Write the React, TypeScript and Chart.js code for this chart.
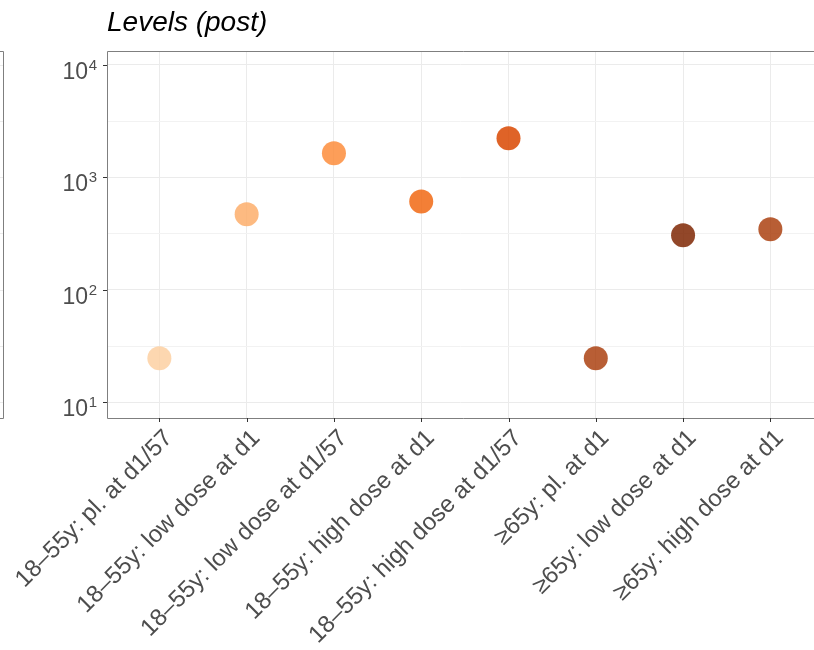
import React, { useEffect, useRef } from "react";
import { Chart, registerables } from "chart.js";

Chart.register(...registerables);

const categories = [
  "18–55y: pl. at d1/57",
  "18–55y: low dose at d1",
  "18–55y: low dose at d1/57",
  "18–55y: high dose at d1",
  "18–55y: high dose at d1/57",
  "≥65y: pl. at d1",
  "≥65y: low dose at d1",
  "≥65y: high dose at d1",
];
const values = [24.5, 470, 1640, 610, 2230, 24.5, 305, 345];
const pointColors = [
  "rgba(253,208,162,0.85)",
  "rgba(253,174,107,0.85)",
  "rgba(253,141,60,0.85)",
  "rgba(241,105,19,0.85)",
  "rgba(217,72,1,0.85)",
  "rgba(166,54,3,0.8)",
  "rgba(127,39,4,0.85)",
  "rgba(166,54,3,0.8)",
];
const yTickExponents = [1, 2, 3, 4];
const titleText = "Levels (post)";

const FONT = "'Liberation Sans', Arial, Helvetica, sans-serif";

export default function App() {
  const ref = useRef<HTMLCanvasElement | null>(null);

  useEffect(() => {
    if (!ref.current) return;
    const decorations = {
      id: "decorations",
      beforeDraw(chart: any) {
        const ctx = chart.ctx;
        const { top, bottom } = chart.chartArea;
        const y = chart.scales.y;
        ctx.save();
        ctx.fillStyle = "#ffffff";
        ctx.fillRect(0, 0, chart.width, chart.height);
        ctx.strokeStyle = "#ebebeb";
        ctx.lineWidth = 1;
        for (const e of [1, 1.5, 2, 2.5, 3, 3.5, 4]) {
          const py = Math.round(y.getPixelForValue(Math.pow(10, e))) + 0.5;
          ctx.beginPath();
          ctx.moveTo(0, py);
          ctx.lineTo(3, py);
          ctx.stroke();
        }
        ctx.strokeStyle = "#7f7f7f";
        ctx.beginPath();
        ctx.moveTo(0, Math.round(top) + 0.5);
        ctx.lineTo(3.5, Math.round(top) + 0.5);
        ctx.lineTo(3.5, Math.round(bottom) + 0.5);
        ctx.lineTo(0, Math.round(bottom) + 0.5);
        ctx.stroke();
        ctx.restore();
      },
      beforeDatasetsDraw(chart: any) {
        const ctx = chart.ctx;
        const { left, right } = chart.chartArea;
        const y = chart.scales.y;
        ctx.save();
        ctx.strokeStyle = "#f2f2f2";
        ctx.lineWidth = 1;
        for (const e of [1.5, 2.5, 3.5]) {
          const py = Math.round(y.getPixelForValue(Math.pow(10, e))) + 0.5;
          ctx.beginPath();
          ctx.moveTo(left, py);
          ctx.lineTo(right, py);
          ctx.stroke();
        }
        ctx.restore();
      },
      afterDraw(chart: any) {
        const ctx = chart.ctx;
        const { left, right, top, bottom } = chart.chartArea;
        const y = chart.scales.y;
        const x = chart.scales.x;
        ctx.save();
        ctx.strokeStyle = "#7f7f7f";
        ctx.lineWidth = 1;
        ctx.beginPath();
        ctx.moveTo(right + 5, Math.round(top) + 0.5);
        ctx.lineTo(Math.round(left) + 0.5, Math.round(top) + 0.5);
        ctx.lineTo(Math.round(left) + 0.5, Math.round(bottom) + 0.5);
        ctx.lineTo(right + 5, Math.round(bottom) + 0.5);
        ctx.stroke();
        ctx.strokeStyle = "#333333";
        for (const e of yTickExponents) {
          const py = Math.round(y.getPixelForValue(Math.pow(10, e))) + 0.5;
          ctx.beginPath();
          ctx.moveTo(left - 4, py);
          ctx.lineTo(left, py);
          ctx.stroke();
        }
        for (let i = 0; i < categories.length; i++) {
          const px = Math.round(x.getPixelForValue(i)) + 0.5;
          ctx.beginPath();
          ctx.moveTo(px, bottom);
          ctx.lineTo(px, bottom + 4);
          ctx.stroke();
        }
        // y tick labels
        ctx.fillStyle = "#4d4d4d";
        for (const e of yTickExponents) {
          const py = y.getPixelForValue(Math.pow(10, e));
          ctx.font = `15px ${FONT}`;
          ctx.textAlign = "left";
          ctx.textBaseline = "alphabetic";
          const supW = ctx.measureText(String(e)).width;
          const supX = left - 10 - supW;
          ctx.fillText(String(e), supX, py + 5);
          ctx.font = `23px ${FONT}`;
          ctx.textAlign = "right";
          ctx.fillText("10", supX - 0.5, py + 14);
        }
        // x tick labels, rotated 45°
        ctx.font = `24px ${FONT}`;
        ctx.textAlign = "right";
        ctx.textBaseline = "top";
        for (let i = 0; i < categories.length; i++) {
          const px = x.getPixelForValue(i);
          ctx.save();
          ctx.translate(px + 1, bottom + 8);
          ctx.rotate(-Math.PI / 4);
          ctx.fillText(categories[i], 0, 0);
          ctx.restore();
        }
        // title
        ctx.fillStyle = "#000000";
        ctx.font = `italic 28px ${FONT}`;
        ctx.textAlign = "left";
        ctx.textBaseline = "alphabetic";
        ctx.fillText(titleText, left, 31);
        ctx.restore();
      },
    };

    const chart = new Chart(ref.current, {
      type: "scatter",
      data: {
        datasets: [
          {
            data: values.map((v, i) => ({ x: i, y: v })),
            backgroundColor: pointColors,
            borderColor: pointColors,
            borderWidth: 0,
            pointRadius: 12,
            pointHoverRadius: 12,
          },
        ],
      },
      options: {
        responsive: false,
        animation: false,
        layout: { padding: { top: 51, right: 0, left: 0, bottom: 0 } },
        plugins: {
          legend: { display: false },
          tooltip: { enabled: false },
        },
        scales: {
          x: {
            type: "linear",
            min: -0.6,
            max: 7.5,
            afterBuildTicks: (scale: any) => {
              scale.ticks = categories.map((_, i) => ({ value: i }));
            },
            afterFit: (scale: any) => {
              scale.height = 232;
            },
            ticks: {
              display: false,
              autoSkip: false,
            },
            grid: {
              color: "#ebebeb",
              lineWidth: 1,
              drawTicks: false,
            },
            border: { display: false },
          },
          y: {
            type: "logarithmic",
            min: Math.pow(10, 0.858),
            max: Math.pow(10, 4.124),
            afterBuildTicks: (scale: any) => {
              scale.ticks = yTickExponents.map((e) => ({ value: Math.pow(10, e) }));
            },
            afterFit: (scale: any) => {
              scale.width = 107;
            },
            ticks: {
              display: false,
            },
            grid: {
              color: "#ebebeb",
              lineWidth: 1,
              drawTicks: false,
            },
            border: { display: false },
          },
        },
      },
      plugins: [decorations],
    });
    return () => chart.destroy();
  }, []);

  return (
    <div style={{ position: "absolute", left: 0, top: 0, width: 814, height: 650, overflow: "hidden", background: "#fff" }}>
      <canvas ref={ref} width={826} height={650} style={{ display: "block" }} />
    </div>
  );
}
